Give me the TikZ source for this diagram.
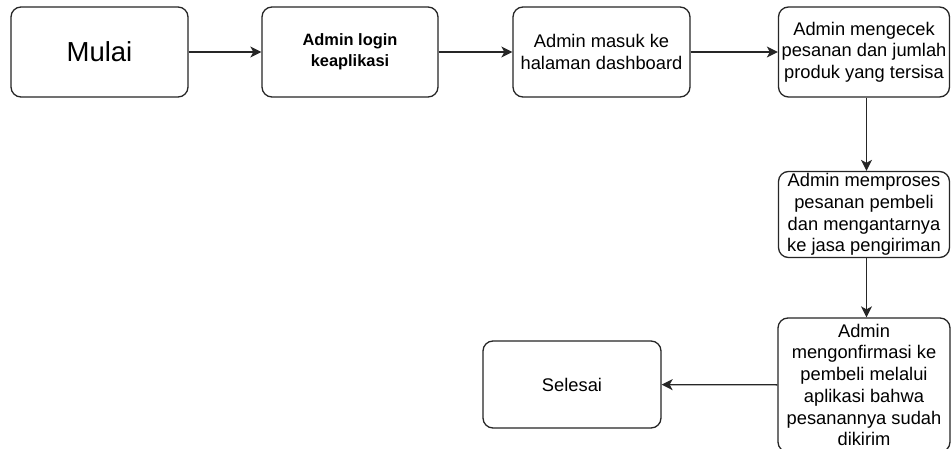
\documentclass[tikz,border=0pt]{standalone}
\usepackage{fontspec}
\setmainfont{Liberation Sans}
\usetikzlibrary{arrows.meta}
\begin{document}
\begin{tikzpicture}[x=1pt,y=-1pt,
  box/.style={draw=black!85, line width=1.3pt, rounded corners=10pt, rectangle,
    align=center, inner sep=0pt, fill=white},
  txt/.style={font=\fontsize{18.3}{21.7}\selectfont},
  conn/.style={draw=black!85, line width=1.3pt, -{Stealth[length=11pt,width=11pt,inset=3pt]}}]
\fill[white] (0,0) rectangle (951,449);
\clip (0,0) rectangle (951,449);
\node[box, minimum width=177pt, minimum height=90pt, font=\fontsize{27.5}{32}\selectfont] (mulai) at (99.5,52) {Mulai};
\node[box, minimum width=176pt, minimum height=90pt, font=\fontsize{16.4}{21.5}\selectfont\bfseries] (login) at (350,52) {Admin login\\keaplikasi};
\node[box, txt, minimum width=177pt, minimum height=90pt] (masuk) at (601.5,52) {Admin masuk ke\\halaman dashboard};
\node[box, txt, minimum width=171pt, minimum height=90pt] (cek) at (864,52) {Admin mengecek\\pesanan dan jumlah\\produk yang tersisa};
\node[box, txt, minimum width=171pt, minimum height=86pt] (proses) at (864,214.5) {Admin memproses\\pesanan pembeli\\dan mengantarnya\\ke jasa pengiriman};
\node[box, txt, minimum width=172pt, minimum height=134pt] (konf) at (864,385) {Admin\\mengonfirmasi ke\\pembeli melalui\\aplikasi bahwa\\pesanannya sudah\\dikirim};
\node[box, txt, minimum width=178pt, minimum height=87pt] (selesai) at (572,384.5) {Selesai};
\draw[conn] (mulai) -- (login);
\draw[conn] (login) -- (masuk);
\draw[conn] (masuk) -- (cek);
\draw[conn] ([xshift=2.5pt]cek.south) -- ([xshift=2.5pt]proses.north);
\draw[conn] ([xshift=2.5pt]proses.south) -- ([xshift=2.5pt]konf.north);
\draw[conn] (konf) -- (selesai);
\end{tikzpicture}
\end{document}
